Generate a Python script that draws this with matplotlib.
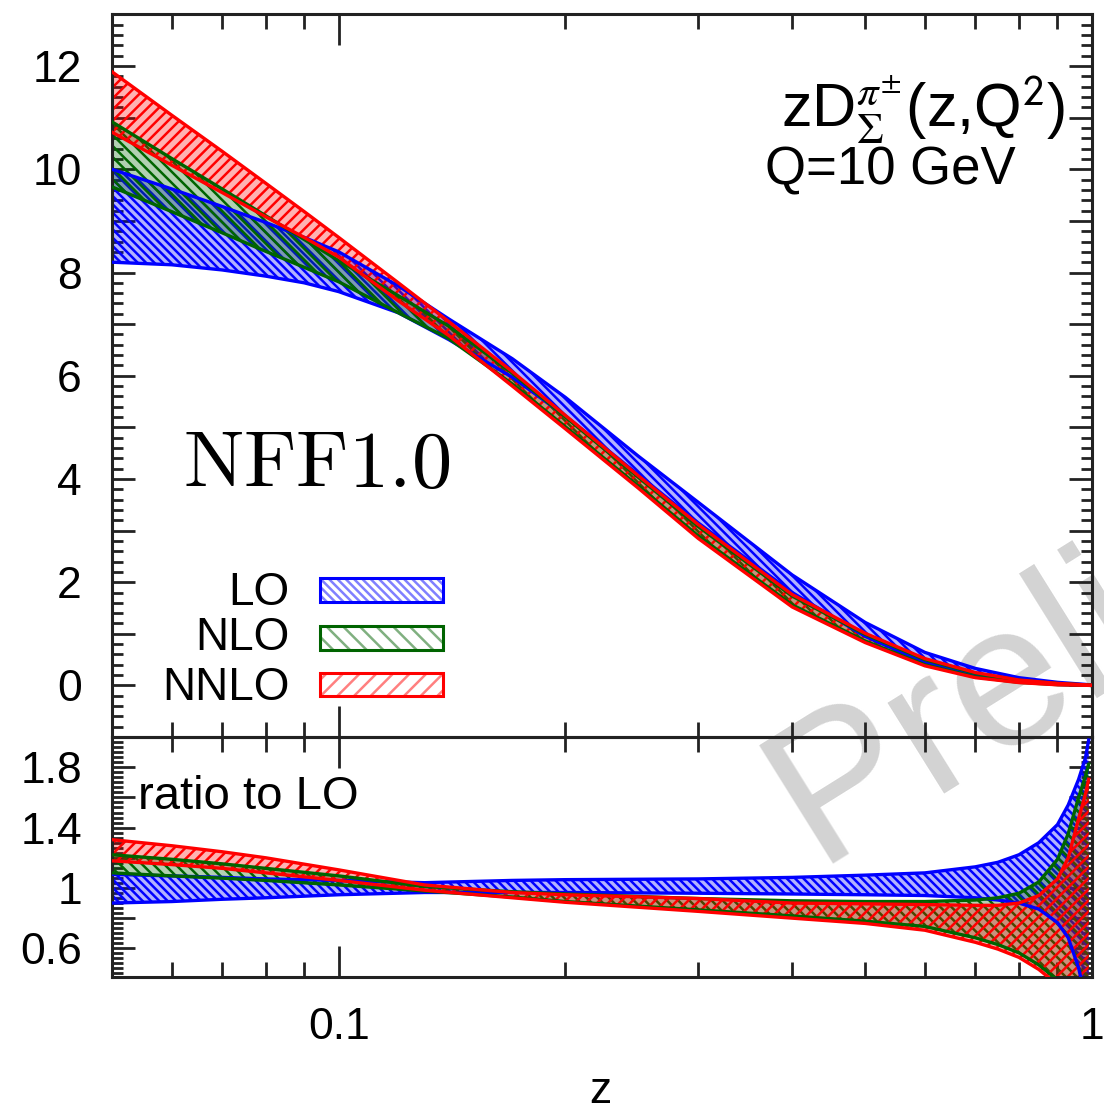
import numpy as np
import matplotlib
matplotlib.use('Agg')
import matplotlib.pyplot as plt
import matplotlib.ticker as mticker
from matplotlib.patches import Rectangle

plt.rcParams['font.family'] = ['Liberation Sans', 'DejaVu Sans']
plt.rcParams['hatch.linewidth'] = 1.8

# ── data ─────────────────────────────────────────────────────────────────────
# upper panel: zD(z, Q^2) bands
z = [0.05, 0.06, 0.07, 0.08, 0.09, 0.10, 0.12, 0.14, 0.17, 0.20,
     0.25, 0.30, 0.40, 0.50, 0.60, 0.70, 0.80, 0.90, 1.00]

lo_low  = [8.20, 8.15, 8.05, 7.93, 7.80, 7.63, 7.22, 6.70, 5.97, 5.22,
           4.08, 3.15, 1.80, 0.95, 0.44, 0.20, 0.08, 0.02, 0.00]
lo_high = [10.00, 9.62, 9.28, 8.97, 8.68, 8.40, 7.74, 7.10, 6.33, 5.58,
           4.44, 3.55, 2.14, 1.22, 0.64, 0.33, 0.15, 0.06, 0.01]

nlo_low  = [9.66, 9.18, 8.77, 8.41, 8.10, 7.82, 7.22, 6.72, 5.84, 5.01,
            3.86, 2.90, 1.56, 0.86, 0.40, 0.165, 0.06, 0.015, 0.00]
nlo_high = [10.92, 10.21, 9.62, 9.10, 8.64, 8.23, 7.55, 6.96, 6.05, 5.20,
            4.03, 3.08, 1.73, 0.99, 0.50, 0.235, 0.10, 0.037, 0.004]

nnlo_low  = [10.72, 10.08, 9.55, 9.08, 8.68, 8.30, 7.45, 6.78, 5.80, 4.97,
             3.82, 2.85, 1.52, 0.83, 0.38, 0.15, 0.055, 0.012, 0.00]
nnlo_high = [11.89, 11.05, 10.35, 9.73, 9.18, 8.68, 7.80, 7.05, 6.08, 5.23,
             4.06, 3.12, 1.76, 1.01, 0.52, 0.25, 0.105, 0.04, 0.005]

# lower panel: ratio to LO
zr = [0.05, 0.06, 0.07, 0.08, 0.10, 0.13, 0.17, 0.20, 0.30, 0.40,
      0.50, 0.60, 0.70, 0.75, 0.80, 0.85, 0.90, 0.93, 0.96, 0.98, 0.99]

r_lo_low  = [0.90, 0.91, 0.925, 0.935, 0.955, 0.97, 0.97, 0.97, 0.965, 0.96,
             0.955, 0.95, 0.935, 0.92, 0.90, 0.86, 0.77, 0.67, 0.47, 0.27, 0.10]
r_lo_high = [1.09, 1.08, 1.07, 1.06, 1.05, 1.035, 1.05, 1.055, 1.06, 1.07,
             1.085, 1.10, 1.14, 1.17, 1.22, 1.30, 1.42, 1.55, 1.72, 1.86, 1.98]

r_nlo_low  = [1.10, 1.08, 1.065, 1.05, 1.02, 0.98, 0.94, 0.91, 0.855, 0.815,
              0.78, 0.745, 0.67, 0.625, 0.57, 0.49, 0.39, 0.29, 0.13, 0.02, -0.10]
r_nlo_high = [1.22, 1.19, 1.16, 1.13, 1.08, 1.01, 0.975, 0.96, 0.93, 0.915,
              0.91, 0.91, 0.92, 0.935, 0.965, 1.04, 1.19, 1.36, 1.60, 1.74, 1.82]

r_nnlo_low  = [1.18, 1.155, 1.13, 1.10, 1.05, 0.985, 0.935, 0.905, 0.845, 0.80,
               0.765, 0.72, 0.64, 0.595, 0.54, 0.46, 0.36, 0.25, 0.10, 0.0, -0.10]
r_nnlo_high = [1.32, 1.28, 1.24, 1.20, 1.12, 1.02, 0.97, 0.955, 0.93, 0.90,
               0.895, 0.89, 0.885, 0.885, 0.90, 0.95, 1.06, 1.20, 1.46, 1.62, 1.72]

labels = ['LO', 'NLO', 'NNLO']

# ── style ───────────────────────────────────────────────────────────────────
BLUE  = '#0000ff'
GREEN = '#006400'
RED   = '#ff0000'
AXC   = '#222222'
COLOR = {'LO': BLUE, 'NLO': GREEN, 'NNLO': RED}
LIGHT = {'LO': '#8080ff', 'NLO': '#80b080', 'NNLO': '#ff8080'}
HATCH = {'LO': '\\\\\\\\', 'NLO': '\\\\\\', 'NNLO': '///'}
LEG_HATCH = {'LO': '\\\\\\\\', 'NLO': '\\\\', 'NNLO': '//'}
FS = 32


def band(ax, x, low, high, name):
    # tinted fill + hatch, outlined by the two boundary curves
    ax.fill_between(x, low, high, facecolor=COLOR[name], alpha=0.3,
                    linewidth=0, zorder=2)
    ax.fill_between(x, low, high, facecolor='none', edgecolor=COLOR[name],
                    hatch=HATCH[name], linewidth=0, zorder=2)
    ax.plot(x, low, color=COLOR[name], lw=2.4, zorder=3)
    ax.plot(x, high, color=COLOR[name], lw=2.4, zorder=3)


def style_axis(ax):
    ax.set_facecolor('none')
    ax.set_xscale('log')
    ax.set_xlim(0.05, 1.0)
    ax.xaxis.set_major_locator(mticker.LogLocator(base=10))
    ax.xaxis.set_minor_locator(mticker.LogLocator(base=10, subs=np.arange(2, 10)))
    ax.xaxis.set_minor_formatter(mticker.NullFormatter())
    ax.tick_params(which='both', direction='in', top=True, right=True,
                   width=2, color=AXC, labelsize=FS, pad=21.6)
    ax.tick_params(axis='x', which='major', length=22)
    ax.tick_params(axis='x', which='minor', length=11)
    ax.tick_params(axis='y', which='major', length=16.5)
    ax.tick_params(axis='y', which='minor', length=8)
    for sp in ax.spines.values():
        sp.set_linewidth(2.2)
        sp.set_color(AXC)


fig = plt.figure(figsize=(11.04, 11.11), dpi=100)
ax1 = fig.add_axes([0.1014, 0.3366, 0.8877, 0.6504])
ax2 = fig.add_axes([0.1014, 0.1206, 0.8877, 0.2160])

# upper panel
band(ax1, z, lo_low, lo_high, 'LO')
band(ax1, z, nlo_low, nlo_high, 'NLO')
band(ax1, z, nnlo_low, nnlo_high, 'NNLO')
style_axis(ax1)
ax1.set_ylim(-1, 13)
ax1.yaxis.set_major_locator(mticker.MultipleLocator(1))
ax1.yaxis.set_minor_locator(mticker.AutoMinorLocator(5))
ax1.yaxis.set_major_formatter(mticker.FuncFormatter(
    lambda v, p: f'{int(round(v))}' if int(round(v)) % 2 == 0 else ''))
ax1.xaxis.set_major_formatter(mticker.NullFormatter())

# legend drawn by hand (labels right aligned)
leg_y = [0.203, 0.137, 0.0727]
txt_y = [0.1827, 0.1204, 0.0512]
for name, yc, yt in zip(labels, leg_y, txt_y):
    ax1.add_patch(Rectangle((0.212, yc - 0.0166), 0.126, 0.0332,
                            transform=ax1.transAxes, facecolor='none',
                            edgecolor=LIGHT[name], hatch=LEG_HATCH[name], lw=0))
    ax1.add_patch(Rectangle((0.212, yc - 0.0166), 0.126, 0.0332,
                            transform=ax1.transAxes, facecolor='none',
                            edgecolor=COLOR[name], lw=2.2))
    ax1.text(0.1816, yt, name, transform=ax1.transAxes, ha='right',
             va='baseline', fontsize=FS + 1)

ax1.text(0.0724, 0.346, r'$\mathrm{NFF1.0}$', transform=ax1.transAxes,
         fontsize=58, math_fontfamily='cm', ha='left', va='baseline')
ax1.text(0.972, 0.843, r'zD$_{\Sigma}^{\pi^{\pm}}$(z,Q$^{\mathsf{2}}$)',
         transform=ax1.transAxes, fontsize=44, math_fontfamily='stix',
         ha='right', va='baseline')
ax1.text(0.666, 0.764, 'Q=10 GeV', transform=ax1.transAxes,
         fontsize=38, ha='left', va='baseline')

# lower panel
band(ax2, zr, r_lo_low, r_lo_high, 'LO')
band(ax2, zr, r_nlo_low, r_nlo_high, 'NLO')
band(ax2, zr, r_nnlo_low, r_nnlo_high, 'NNLO')
style_axis(ax2)
ax2.set_ylim(0.41, 2.0)
ax2.yaxis.set_major_locator(mticker.MultipleLocator(0.2))
ax2.yaxis.set_minor_locator(mticker.AutoMinorLocator(6))


def ratio_fmt(v, p):
    k = int(round(v * 10))
    return f'{v:g}' if k % 4 == 2 else ''


ax2.yaxis.set_major_formatter(mticker.FuncFormatter(ratio_fmt))
ax2.xaxis.set_major_formatter(mticker.FuncFormatter(lambda v, p: f'{v:g}'))
ax2.text(0.0265, 0.70, 'ratio to LO', transform=ax2.transAxes,
         fontsize=FS + 2, ha='left', va='baseline')

fig.text(0.5435, 0.0075, 'z', fontsize=FS, ha='center', va='baseline')

# watermark behind the axes
fig.text(0.739, 0.2232, 'Preliminary', fontsize=146, color='#d3d3d3',
         rotation=32, rotation_mode='anchor', ha='left', va='baseline',
         zorder=-5)

fig.savefig('out.png', dpi=100)
